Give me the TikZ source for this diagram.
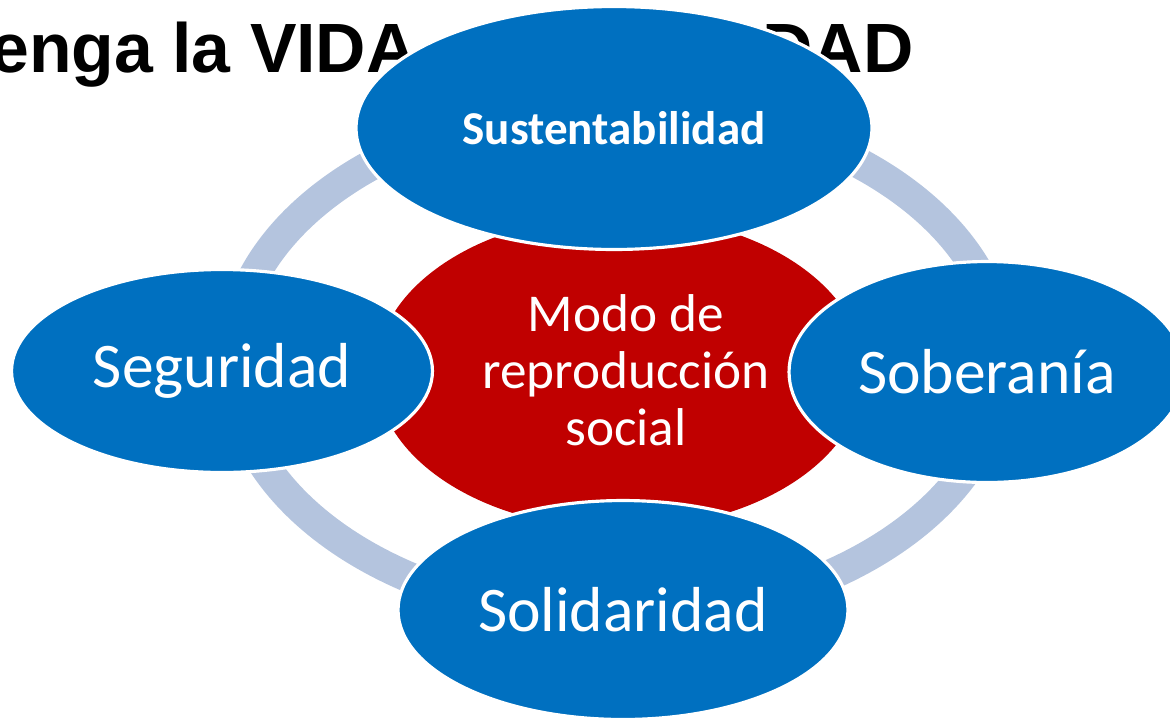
\documentclass[tikz,border=0pt]{standalone}
\usepackage{fontspec}
\setmainfont{Carlito}
\newfontfamily\titlefont{Liberation Sans}
\usetikzlibrary{shapes.geometric}
\definecolor{cycblue}{RGB}{0,112,192}
\definecolor{cycred}{RGB}{192,0,0}
\definecolor{ringgray}{RGB}{180,196,222}
\begin{document}
\begin{tikzpicture}[x=0.02cm, y=-0.02cm,
bubble/.style={ellipse, fill=cycblue, draw=white, line width=1.8pt,
  inner sep=0pt, text=white, font=\fontsize{36.2}{40}\selectfont},
core/.style={ellipse, fill=cycred, inner sep=0pt, text=white,
  align=center, font=\fontsize{30.3}{32.3}\selectfont},
ringpath/.style={draw=ringgray, line width=17.5pt},
headline/.style={inner sep=0pt, font=\titlefont\bfseries\fontsize{39.7}{44}\selectfont}
]
\useasboundingbox (0,0) rectangle (1170,721);
\clip (0,0) rectangle (1170,721);

\node[headline, anchor=base west] (headl) at (-10,72) {enga la VIDA};
\node[headline, anchor=base east] (headr) at (914,72) {DAD};

\draw[ringpath] (617,362) ellipse [x radius=385.5, y radius=255.5];

\node[core, minimum width=9.76cm, minimum height=6.28cm] (modo) at (620,372) {};
\node[text=white, align=center, inner sep=0pt,
  font=\fontsize{30.3}{32.3}\selectfont] (modotxt) at (626,370)
  {Modo de\\reproducción\\social};

\node[bubble, minimum width=10.32cm, minimum height=4.86cm,
  font=\bfseries\fontsize{26.8}{30}\selectfont] (sust) at (614,128) {Sustentabilidad};
\node[bubble, minimum width=8.42cm, minimum height=4.06cm] (segu) at (222,371) {Seguridad};
\node[bubble, minimum width=7.92cm, minimum height=4.42cm] (sobe) at (987,372) {Soberanía};
\node[bubble, minimum width=9.0cm, minimum height=4.38cm] (soli) at (623,610) {Solidaridad};

\end{tikzpicture}
\end{document}
